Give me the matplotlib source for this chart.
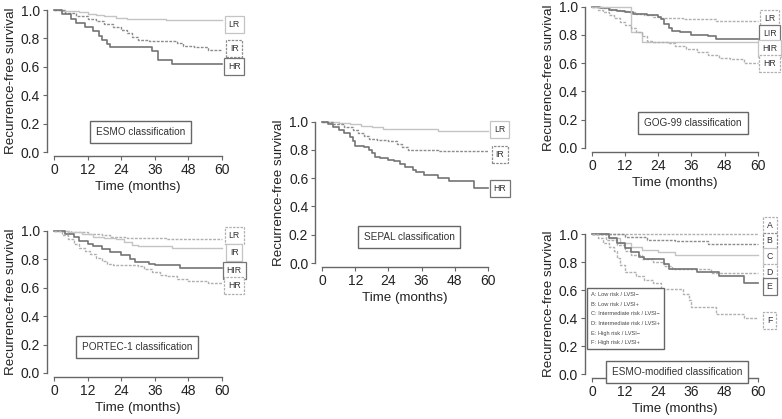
import numpy as np
import matplotlib.pyplot as plt

plt.rcParams['font.family'] = ['Liberation Sans', 'DejaVu Sans']

# ---- data: (months, survival) step points ----
esmo_lr_t = [0, 3, 6, 9, 12, 15, 18, 22, 26, 30, 40, 60]
esmo_lr_s = [1.0, 0.995, 0.99, 0.985, 0.975, 0.965, 0.955, 0.945, 0.94, 0.935, 0.93, 0.93]
esmo_ir_t = [0, 4, 8, 12, 15, 18, 21, 24, 26, 28, 30, 34, 44, 46, 50, 55, 60]
esmo_ir_s = [1.0, 0.98, 0.96, 0.94, 0.92, 0.90, 0.88, 0.86, 0.84, 0.81, 0.79, 0.78, 0.77, 0.75, 0.74, 0.72, 0.72]
esmo_hr_t = [0, 3, 6, 8, 11, 14, 16, 17, 19, 20, 35, 37, 42, 60]
esmo_hr_s = [1.0, 0.97, 0.94, 0.91, 0.88, 0.85, 0.82, 0.79, 0.76, 0.74, 0.71, 0.65, 0.62, 0.62]

sepal_lr_t = [0, 6, 10, 14, 18, 22, 36, 42, 60]
sepal_lr_s = [1.0, 0.99, 0.98, 0.97, 0.96, 0.95, 0.945, 0.935, 0.935]
sepal_ir_t = [0, 4, 8, 11, 13, 15, 17, 20, 24, 27, 29, 31, 42, 60]
sepal_ir_s = [1.0, 0.98, 0.96, 0.94, 0.92, 0.90, 0.88, 0.87, 0.86, 0.84, 0.82, 0.80, 0.79, 0.79]
sepal_hr_t = [0, 2, 4, 6, 8, 10, 11, 12, 15, 17, 18, 19, 21, 24, 26, 28, 30, 33, 34, 37, 42, 46, 55, 60]
sepal_hr_s = [1.0, 0.98, 0.96, 0.94, 0.92, 0.89, 0.86, 0.83, 0.82, 0.80, 0.78, 0.75, 0.74, 0.73,
              0.72, 0.70, 0.68, 0.66, 0.64, 0.62, 0.60, 0.58, 0.53, 0.53]

gog_lr_t = [0, 4, 7, 10, 13, 16, 19, 22, 25, 33, 45, 60]
gog_lr_s = [1.0, 0.99, 0.98, 0.97, 0.96, 0.95, 0.94, 0.93, 0.92, 0.91, 0.90, 0.90]
gog_lir_t = [0, 3, 6, 9, 12, 15, 20, 24, 25, 26, 28, 29, 32, 36, 42, 45, 60]
gog_lir_s = [1.0, 0.99, 0.98, 0.97, 0.96, 0.95, 0.94, 0.93, 0.91, 0.88, 0.85, 0.83, 0.82, 0.80, 0.79, 0.77, 0.77]
gog_hir_t = [0, 14, 18, 60]
gog_hir_s = [1.0, 0.82, 0.75, 0.75]
gog_hr_t = [0, 2, 4, 6, 8, 10, 12, 14, 16, 18, 20, 22, 28, 30, 34, 38, 42, 46, 50, 55, 60]
gog_hr_s = [1.0, 0.98, 0.96, 0.94, 0.92, 0.89, 0.87, 0.85, 0.82, 0.79, 0.76, 0.75, 0.74, 0.72,
            0.70, 0.68, 0.66, 0.64, 0.63, 0.60, 0.60]

portec_lr_t = [0, 6, 12, 17, 20, 26, 40, 60]
portec_lr_s = [1.0, 0.99, 0.98, 0.97, 0.96, 0.95, 0.94, 0.94]
portec_ir_t = [0, 5, 10, 14, 18, 22, 25, 28, 30, 42, 60]
portec_ir_s = [1.0, 0.99, 0.98, 0.96, 0.95, 0.94, 0.92, 0.90, 0.89, 0.88, 0.88]
portec_hir_t = [0, 4, 7, 9, 12, 14, 17, 20, 24, 27, 29, 34, 36, 45, 60]
portec_hir_s = [1.0, 0.98, 0.96, 0.93, 0.91, 0.89, 0.87, 0.85, 0.83, 0.80, 0.78, 0.77, 0.76, 0.74, 0.74]
portec_hr_t = [0, 3, 5, 7, 9, 11, 13, 15, 17, 19, 21, 30, 32, 35, 38, 40, 44, 48, 55, 60]
portec_hr_s = [1.0, 0.97, 0.94, 0.91, 0.88, 0.86, 0.84, 0.81, 0.79, 0.77, 0.76, 0.75, 0.73,
               0.71, 0.69, 0.68, 0.66, 0.65, 0.63, 0.63]

mod_a_t = [0, 60]
mod_a_s = [1.0, 1.0]
mod_b_t = [0, 12, 20, 30, 42, 60]
mod_b_s = [1.0, 0.98, 0.96, 0.95, 0.93, 0.93]
mod_c_t = [0, 6, 10, 14, 18, 24, 30, 60]
mod_c_s = [1.0, 0.97, 0.94, 0.91, 0.89, 0.87, 0.85, 0.85]
mod_d_t = [0, 5, 9, 12, 14, 18, 22, 26, 29, 43, 60]
mod_d_s = [1.0, 0.96, 0.92, 0.88, 0.85, 0.82, 0.80, 0.77, 0.75, 0.72, 0.72]
mod_e_t = [0, 6, 9, 12, 14, 17, 19, 26, 28, 38, 46, 55, 60]
mod_e_s = [1.0, 0.97, 0.94, 0.90, 0.87, 0.84, 0.82, 0.79, 0.75, 0.73, 0.70, 0.65, 0.65]
mod_f_t = [0, 2, 4, 6, 8, 9, 10, 12, 16, 19, 22, 25, 33, 35, 36, 45, 55, 60]
mod_f_s = [1.0, 0.97, 0.94, 0.91, 0.88, 0.83, 0.78, 0.73, 0.70, 0.67, 0.65, 0.61, 0.57,
           0.53, 0.48, 0.43, 0.40, 0.40]

legend_lines = ['A: Low risk / LVSI\u2212', 'B: Low risk / LVSI+',
                'C: Intermediate risk / LVSI\u2212', 'D: Intermediate risk / LVSI+',
                'E: High risk / LVSI\u2212', 'F: High risk / LVSI+']

# line styles
light = dict(color='#c4c4c4', lw=1.0, ls='-')
dash = dict(color='#8c8c8c', lw=1.0, ls=(0, (2, 1)))
ldash = dict(color='#b0b0b0', lw=1.0, ls=(0, (2, 1)))
dark = dict(color='#747474', lw=1.2, ls='-')

# panel: (axes rect, title, title pos (x,y data), curves [(t, s, style, label, label_y)])
panels = [
    ([0.069, 0.637, 0.215, 0.339], 'ESMO classification', (31, 0.141),
     [(esmo_lr_t, esmo_lr_s, light, 'LR', 0.90),
      (esmo_ir_t, esmo_ir_s, dash, 'IR', 0.73),
      (esmo_hr_t, esmo_hr_s, dark, 'HR', 0.60)]),
    ([0.412, 0.372, 0.212, 0.338], 'SEPAL classification', (31.4, 0.184),
     [(sepal_lr_t, sepal_lr_s, light, 'LR', 0.945),
      (sepal_ir_t, sepal_ir_s, dash, 'IR', 0.77),
      (sepal_hr_t, sepal_hr_s, dark, 'HR', 0.53)]),
    ([0.757, 0.647, 0.212, 0.337], 'GOG-99 classification', (36.5, 0.177),
     [(gog_lr_t, gog_lr_s, ldash, 'LR', 0.915),
      (gog_lir_t, gog_lir_s, dark, 'LIR', 0.81),
      (gog_hir_t, gog_hir_s, light, 'HIR', 0.705),
      (gog_hr_t, gog_hr_s, ldash, 'HR', 0.60)]),
    ([0.069, 0.110, 0.215, 0.339], 'PORTEC-1 classification', (29.6, 0.183),
     [(portec_lr_t, portec_lr_s, ldash, 'LR', 0.97),
      (portec_ir_t, portec_ir_s, light, 'IR', 0.847),
      (portec_hir_t, portec_hir_s, dark, 'HIR', 0.718),
      (portec_hr_t, portec_hr_s, ldash, 'HR', 0.613)]),
    ([0.757, 0.107, 0.212, 0.334], 'ESMO-modified classification', (30.7, 0.014),
     [(mod_a_t, mod_a_s, ldash, 'A', 1.064),
      (mod_b_t, mod_b_s, dash, 'B', 0.952),
      (mod_c_t, mod_c_s, light, 'C', 0.843),
      (mod_d_t, mod_d_s, ldash, 'D', 0.73),
      (mod_e_t, mod_e_s, dark, 'E', 0.624),
      (mod_f_t, mod_f_s, ldash, 'F', 0.386)]),
]

fig = plt.figure(figsize=(7.82, 4.19), dpi=100)

for rect, title, tpos, curves in panels:
    ax = fig.add_axes(rect)
    ax.set_xlim(0, 60)
    ax.set_ylim(0, 1)
    for t, s, st, lab, ly in curves:
        ax.plot(t, s, drawstyle='steps-post', clip_on=False, **st)
        ax.text(64.3, ly, lab, fontsize=6.3, ha='center', va='center', color='#333333',
                clip_on=False,
                bbox=dict(boxstyle='square,pad=0.45', fc='white', ec=st['color'],
                          ls=st['ls'], lw=0.9))
    ax.text(tpos[0], tpos[1], title, fontsize=7.2, ha='center', va='center', color='#333333',
            bbox=dict(boxstyle='square,pad=0.6', fc='white', ec='#666666', lw=1.0))
    for side in ['top', 'right']:
        ax.spines[side].set_visible(False)
    ax.spines['left'].set_position(('outward', 5))
    ax.spines['bottom'].set_position(('outward', 3))
    ax.spines['left'].set_bounds(0, 1)
    ax.spines['bottom'].set_bounds(0, 60)
    for side in ['left', 'bottom']:
        ax.spines[side].set_color('#666666')
        ax.spines[side].set_linewidth(1.0)
    ax.set_xticks([0, 12, 24, 36, 48, 60])
    ax.set_yticks([0, 0.2, 0.4, 0.6, 0.8, 1.0])
    ax.set_yticklabels(['0.0', '0.2', '0.4', '0.6', '0.8', '1.0'])
    ax.tick_params(labelsize=10, length=3, color='#666666', labelcolor='#222222', pad=2)
    ax.set_xlabel('Time (months)', fontsize=9.6, color='#222222', labelpad=3)
    ax.set_ylabel('Recurrence-free survival', fontsize=9.6, color='#222222', labelpad=3)
    ax.patch.set_alpha(0)
    if title.startswith('ESMO-modified'):
        ax.text(-0.3, 0.585, '\n'.join(legend_lines), fontsize=4.1, ha='left', va='top',
                color='#444444', linespacing=2.15,
                bbox=dict(boxstyle='square,pad=0.7', fc='white', ec='#666666', lw=1.0))

fig.savefig('out.png', dpi=100)
